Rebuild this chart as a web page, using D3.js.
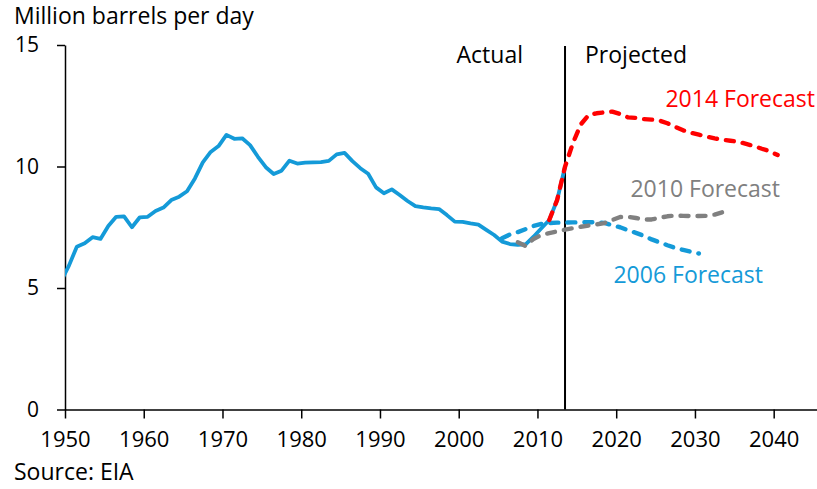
<!DOCTYPE html>
<html>
<head>
<meta charset="utf-8">
<script src="https://cdn.jsdelivr.net/npm/d3@7"></script>
<style>
  body { margin: 0; background: #fff; }
  text { font-family: "Open Sans", "Noto Sans", sans-serif; }
</style>
</head>
<body>
<div id="chart"></div>
<script>
// Actual production, million barrels per day (1949 only feeds the clipped start)
var actualYears = d3.range(1949, 2014);
var actualValues = [5.28,
	5.92, 6.70, 6.84, 7.09, 7.02, 7.55, 7.93, 7.95, 7.50, 7.91,
	7.93, 8.17, 8.31, 8.62, 8.76, 8.98, 9.51, 10.17, 10.60, 10.84,
	11.30, 11.14, 11.16, 10.88, 10.40, 9.97, 9.69, 9.83, 10.24, 10.12,
	10.16, 10.17, 10.18, 10.23, 10.50, 10.56, 10.22, 9.93, 9.70, 9.14,
	8.90, 9.06, 8.83, 8.58, 8.37, 8.32, 8.28, 8.25, 8.00, 7.73,
	7.72, 7.66, 7.61, 7.39, 7.18, 6.91, 6.81, 6.78, 6.80, 7.11,
	7.46, 7.80, 8.62, 9.99];

// 2006 forecast
var f2006Years = d3.range(2005, 2031);
var f2006Values = [7.05, 7.20, 7.30, 7.42, 7.55, 7.64, 7.67, 7.69, 7.69, 7.70,
	7.70, 7.71, 7.70, 7.68, 7.58, 7.50, 7.38, 7.27, 7.15, 7.00,
	6.88, 6.76, 6.65, 6.57, 6.49, 6.42];

// 2010 forecast
var f2010Years = d3.range(2007, 2035);
var f2010Values = [6.88, 6.73, 7.02, 7.18, 7.26, 7.33, 7.40, 7.46, 7.52, 7.57,
	7.62, 7.67, 7.80, 7.92, 7.93, 7.88, 7.82, 7.82, 7.89, 7.95,
	7.98, 7.97, 7.96, 7.96, 7.97, 8.02, 8.12, 8.11];

// 2014 forecast
var f2014Years = d3.range(2011, 2041);
var f2014Values = [7.80, 8.62, 9.99, 10.96, 11.73, 12.12, 12.19, 12.23, 12.26, 12.16,
	12.02, 12.00, 11.95, 11.93, 11.89, 11.78, 11.63, 11.49, 11.39, 11.31,
	11.23, 11.16, 11.10, 11.06, 11.02, 10.93, 10.84, 10.73, 10.63, 10.47];

var xTicks = d3.range(1950, 2041, 10);
var yTicks = [0, 5, 10, 15];
var splitYear = 2013;

var width = 817, height = 489;
var margin = {top: 45, right: 0, bottom: 80, left: 65};

var svg = d3.select("#chart").append("svg")
	.attr("width", width)
	.attr("height", height);

var x = d3.scaleLinear().domain([1950, 2045.5]).range([margin.left, width - margin.right]);
var y = d3.scaleLinear().domain([0, 15]).range([height - margin.bottom + 0.5, margin.top]);

// points sit mid-year between the year ticks
var line = d3.line()
	.x(function(d) { return x(d.year + 0.5); })
	.y(function(d) { return y(d.value); });

function zipSeries(years, values) {
	return years.map(function(yr, i) { return {year: yr, value: values[i]}; });
}

svg.append("clipPath").attr("id", "plot-clip")
	.append("rect")
	.attr("x", margin.left).attr("y", 0)
	.attr("width", width - margin.left).attr("height", height);

// Axes
var yAxis = svg.append("g")
	.attr("transform", "translate(" + margin.left + ",0)")
	.call(d3.axisLeft(y).tickValues(yTicks).tickSize(8).tickSizeOuter(0).tickPadding(18));

var xAxis = svg.append("g")
	.attr("transform", "translate(0," + y(0) + ")")
	.call(d3.axisBottom(x).tickValues(xTicks).tickFormat(d3.format("d"))
		.tickSize(9).tickSizeOuter(0).tickPadding(13));

[xAxis, yAxis].forEach(function(ax) {
	ax.select(".domain").attr("stroke", "#000").attr("stroke-width", 1.5);
	ax.selectAll(".tick line").attr("stroke", "#000").attr("stroke-width", 1.5);
	ax.selectAll(".tick text")
		.attr("fill", "#000")
		.style("font-family", "'Open Sans', sans-serif")
		.style("font-size", "22px");
});
yAxis.selectAll(".tick text").style("font-size", "21px");

// Actual / Projected divider
svg.append("line")
	.attr("x1", x(splitYear + 0.5)).attr("x2", x(splitYear + 0.5))
	.attr("y1", 46).attr("y2", y(0))
	.attr("stroke", "#000")
	.attr("stroke-width", 2);

var plot = svg.append("g").attr("clip-path", "url(#plot-clip)");

// Historical line
plot.append("path")
	.datum(zipSeries(actualYears, actualValues))
	.attr("fill", "none")
	.attr("stroke", "#149ad8")
	.attr("stroke-width", 3.8)
	.attr("stroke-linejoin", "round")
	.attr("d", line);

// Forecast lines, dashed
var forecasts = [
	{years: f2006Years, values: f2006Values, color: "#149ad8"},
	{years: f2010Years, values: f2010Values, color: "#808080"},
	{years: f2014Years, values: f2014Values, color: "#ff0000"}
];

forecasts.forEach(function(f) {
	plot.append("path")
		.datum(zipSeries(f.years, f.values))
		.attr("fill", "none")
		.attr("stroke", f.color)
		.attr("stroke-width", 4.4)
		.attr("stroke-linecap", "round")
		.attr("stroke-linejoin", "round")
		.attr("stroke-dasharray", "8,9")
		.attr("d", line);
});

// Texts
function label(txt, xPos, yPos, color, size, anchor) {
	svg.append("text")
		.attr("x", xPos)
		.attr("y", yPos)
		.attr("fill", color)
		.attr("text-anchor", anchor || "start")
		.style("font-size", size + "px")
		.text(txt);
}

label("Million barrels per day", 14, 24, "#000", 23);
label("Actual", 523, 63, "#000", 23, "end");
label("Projected", 585, 63, "#000", 23);
label("2014 Forecast", 815, 107, "#ff0000", 23, "end");
label("2010 Forecast", 780, 197, "#808080", 23, "end");
label("2006 Forecast", 763, 283, "#149ad8", 23, "end");
label("Source: EIA", 14, 480, "#000", 23);
</script>
</body>
</html>
